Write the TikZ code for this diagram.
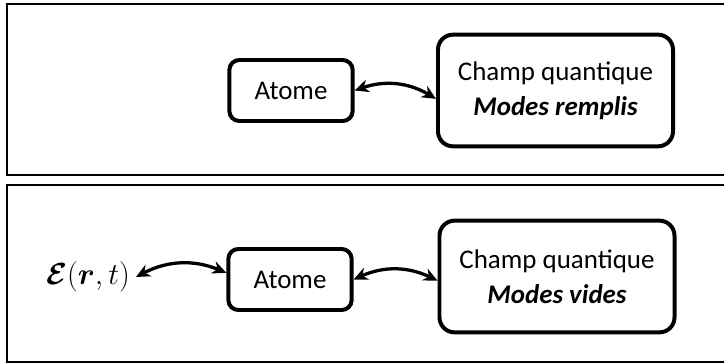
\RequirePackage{fix-cm}
\documentclass[tikz,border=0pt]{standalone}
\usepackage{amsmath}
\usepackage{fontspec}
\setmainfont{Carlito}
\usetikzlibrary{arrows.meta,shadows}

\begin{document}
\begin{tikzpicture}[x=0.03cm, y=-0.03cm,
    panel/.style={line width=1.7pt},
    atombox/.style={draw, fill=white, line width=3.4pt, rounded corners=0.3cm,
      minimum width=3.7cm, minimum height=1.83cm,
      font=\fontsize{23}{28}\selectfont,
      drop shadow={shadow xshift=0.6pt, shadow yshift=-1.5pt, opacity=0.3}},
    fieldbox/.style={draw, fill=white, line width=3.4pt, rounded corners=0.45cm,
      minimum width=7.05cm, minimum height=3.35cm, align=center,
      font=\fontsize{23}{30}\selectfont,
      drop shadow={shadow xshift=0.6pt, shadow yshift=-1.5pt, opacity=0.3}},
    link/.style={{Stealth[length=12pt,width=11pt]}-{Stealth[length=12pt,width=11pt]},
      line width=2.8pt, bend left=25}]
  \useasboundingbox (0,0) rectangle (724,364);
  \clip (0,0) rectangle (724,364);
  % Panels
  \draw[panel] (7,4) rectangle (730,175);
  \draw[panel] (7,185) rectangle (730,362);
  % Top: filled modes
  \node[atombox] (atomA) at (291,90.5) {Atome};
  \node[fieldbox] (fieldA) at (555.5,90.5) {Champ quantique\\\textbf{\textit{Modes remplis}}};
  \draw[link] (atomA.east) to (fieldA.184);
  % Bottom: empty modes
  \node[font=\fontsize{26}{30}\selectfont, inner sep=5pt] (efield) at (88,277)
    {$\boldsymbol{\mathcal{E}}(\boldsymbol{r},t)$};
  \node[atombox] (atomB) at (290,279.5) {Atome};
  \node[fieldbox] (fieldB) at (557,276.5) {Champ quantique\\\textbf{\textit{Modes vides}}};
  \draw[link] (efield.east) to (atomB.174);
  \draw[link] (atomB.east) to (fieldB.182);
\end{tikzpicture}
\end{document}
